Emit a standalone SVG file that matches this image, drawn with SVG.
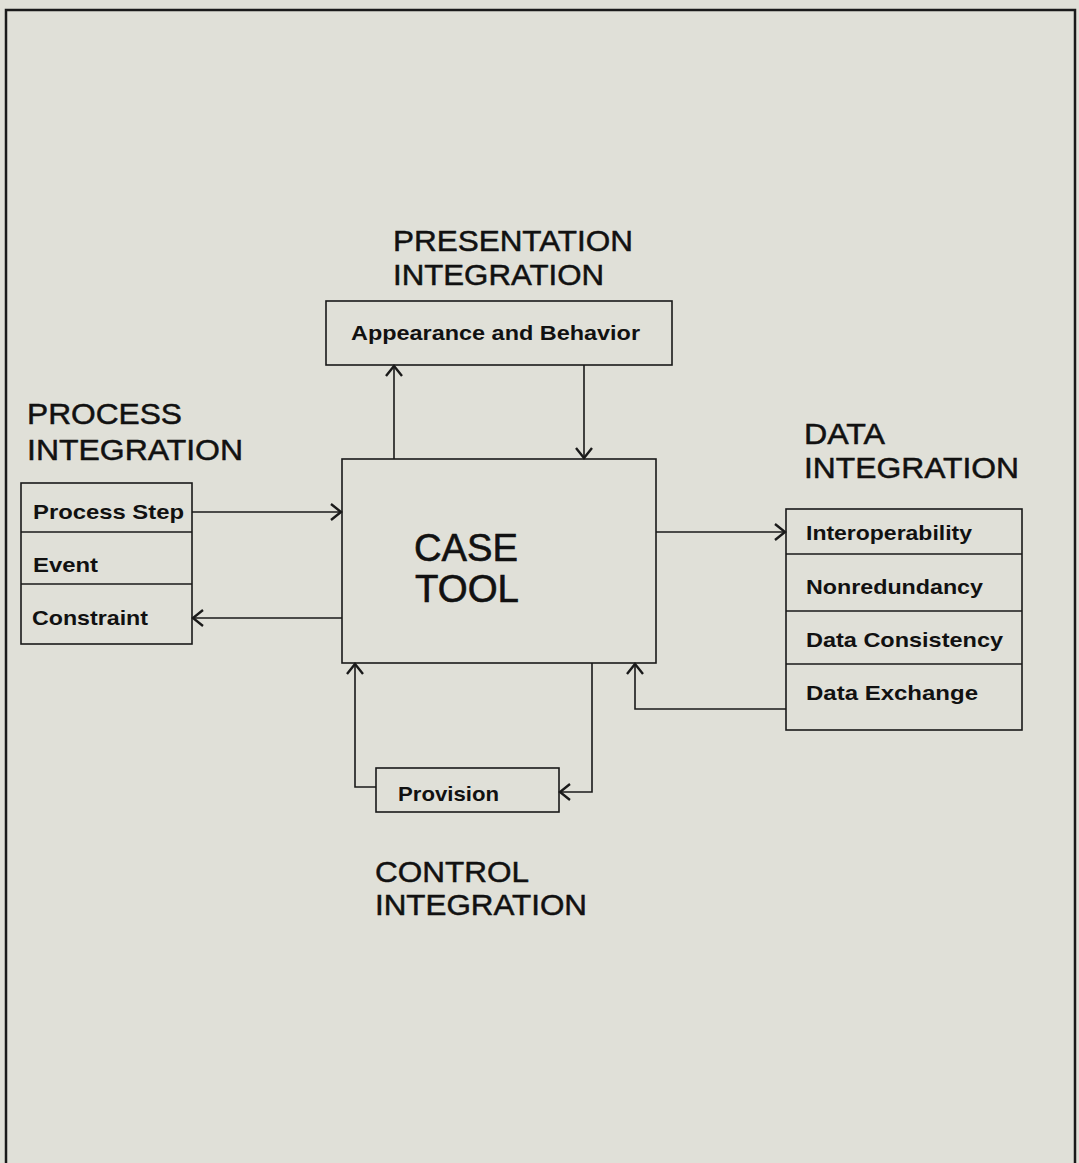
<svg xmlns="http://www.w3.org/2000/svg" width="1079" height="1163" viewBox="0 0 1079 1163">
<defs>
<marker id="arr" markerUnits="userSpaceOnUse" markerWidth="16" markerHeight="22" refX="11" refY="9" orient="auto">
<path d="M1,1 L11,9 L1,17" fill="none" stroke="#1a1a1a" stroke-width="2.4"/>
</marker>
<style>
.box{fill:none;stroke:#1a1a1a;stroke-width:1.6}
.ln{fill:none;stroke:#1a1a1a;stroke-width:1.6}
.h{font-family:"Liberation Sans",Arial,sans-serif;font-size:30px;fill:#111;stroke:#111;stroke-width:0.5}
.t{font-family:"Liberation Sans",Arial,sans-serif;font-size:21px;font-weight:bold;fill:#111}
.c{font-family:"Liberation Sans",Arial,sans-serif;font-size:38px;fill:#111;stroke:#111;stroke-width:0.6}
</style>
</defs>
<rect x="0" y="0" width="1079" height="1163" fill="#e0e0d8"/>
<path d="M6,1163 V10 H1075 V1163" fill="none" stroke="#1a1a1a" stroke-width="2.5"/>

<g id="presentation">
<text class="h" x="393" y="251" textLength="240" lengthAdjust="spacingAndGlyphs">PRESENTATION</text>
<text class="h" x="393" y="285" textLength="211" lengthAdjust="spacingAndGlyphs">INTEGRATION</text>
<rect class="box" x="326" y="301" width="346" height="64"/>
<text class="t" x="351" y="340" textLength="289" lengthAdjust="spacingAndGlyphs">Appearance and Behavior</text>
</g>

<g id="case-tool">
<rect class="box" x="342" y="459" width="314" height="204"/>
<text class="c" x="414" y="561" textLength="104" lengthAdjust="spacingAndGlyphs">CASE</text>
<text class="c" x="415" y="602" textLength="104" lengthAdjust="spacingAndGlyphs">TOOL</text>
</g>

<g id="process">
<text class="h" x="27" y="424" textLength="155" lengthAdjust="spacingAndGlyphs">PROCESS</text>
<text class="h" x="27" y="460" textLength="216" lengthAdjust="spacingAndGlyphs">INTEGRATION</text>
<rect class="box" x="21" y="483" width="171" height="161"/>
<line class="ln" x1="21" y1="532" x2="192" y2="532"/>
<line class="ln" x1="21" y1="584" x2="192" y2="584"/>
<text class="t" x="33" y="519" textLength="151" lengthAdjust="spacingAndGlyphs">Process Step</text>
<text class="t" x="33" y="572" textLength="65" lengthAdjust="spacingAndGlyphs">Event</text>
<text class="t" x="32" y="625" textLength="116" lengthAdjust="spacingAndGlyphs">Constraint</text>
</g>

<g id="data">
<text class="h" x="804" y="444" textLength="81" lengthAdjust="spacingAndGlyphs">DATA</text>
<text class="h" x="804" y="478" textLength="215" lengthAdjust="spacingAndGlyphs">INTEGRATION</text>
<rect class="box" x="786" y="509" width="236" height="221"/>
<line class="ln" x1="786" y1="554" x2="1022" y2="554"/>
<line class="ln" x1="786" y1="611" x2="1022" y2="611"/>
<line class="ln" x1="786" y1="664" x2="1022" y2="664"/>
<text class="t" x="806" y="540" textLength="166" lengthAdjust="spacingAndGlyphs">Interoperability</text>
<text class="t" x="806" y="594" textLength="177" lengthAdjust="spacingAndGlyphs">Nonredundancy</text>
<text class="t" x="806" y="647" textLength="197" lengthAdjust="spacingAndGlyphs">Data Consistency</text>
<text class="t" x="806" y="700" textLength="172" lengthAdjust="spacingAndGlyphs">Data Exchange</text>
</g>

<g id="control">
<rect class="box" x="376" y="768" width="183" height="44"/>
<text class="t" x="398" y="801" textLength="101" lengthAdjust="spacingAndGlyphs">Provision</text>
<text class="h" x="375" y="882" textLength="154" lengthAdjust="spacingAndGlyphs">CONTROL</text>
<text class="h" x="375" y="915" textLength="212" lengthAdjust="spacingAndGlyphs">INTEGRATION</text>
</g>

<g id="connectors">
<path class="ln" d="M394,459 V366" marker-end="url(#arr)"/>
<path class="ln" d="M584,365 V458" marker-end="url(#arr)"/>
<path class="ln" d="M192,512 H341" marker-end="url(#arr)"/>
<path class="ln" d="M342,618 H193" marker-end="url(#arr)"/>
<path class="ln" d="M656,532 H785" marker-end="url(#arr)"/>
<path class="ln" d="M786,709 H635 V664" marker-end="url(#arr)"/>
<path class="ln" d="M376,787 H355 V664" marker-end="url(#arr)"/>
<path class="ln" d="M592,663 V792 H560" marker-end="url(#arr)"/>
</g>
</svg>
